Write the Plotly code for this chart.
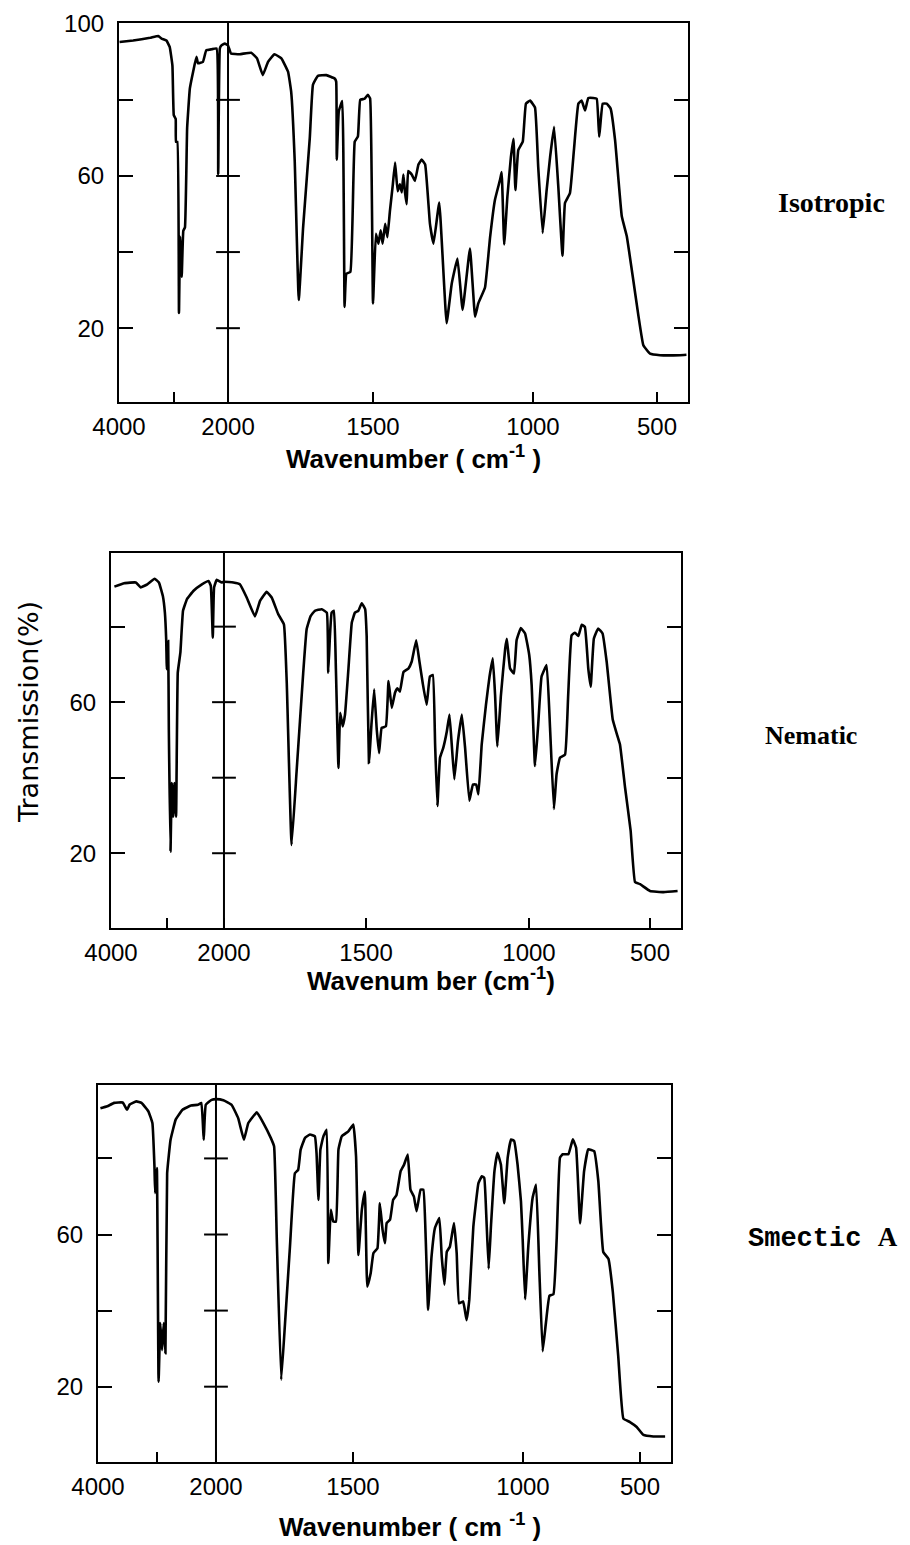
import numpy as np
import plotly.graph_objects as go

# ---------------- data (wavenumber in cm-1, transmission in %) ----------------
iso_wn = [3990, 3740, 3430, 3280, 3220, 3130, 3070, 3020, 2995, 2960, 2955, 2930, 2900, 2880, 2850,
          2820, 2790, 2750, 2700, 2640, 2580, 2550, 2460, 2400, 2300, 2210, 2180, 2150, 2120, 2060,
          2000, 1990, 1960, 1920, 1900, 1880, 1862, 1840, 1816, 1793, 1782, 1770, 1756, 1741, 1718,
          1707, 1690, 1661, 1632, 1627, 1625, 1618, 1606, 1598, 1592, 1578, 1563, 1552, 1544, 1529,
          1518, 1510, 1500, 1491, 1483, 1476, 1470, 1462, 1455, 1447, 1439, 1431, 1423, 1416, 1410,
          1405, 1400, 1395, 1390, 1379, 1369, 1358, 1348, 1337, 1322, 1311, 1293, 1270, 1254, 1236,
          1220, 1197, 1181, 1171, 1150, 1134, 1119, 1103, 1098, 1090, 1080, 1069, 1061, 1055, 1046,
          1032, 1022, 1009, 992, 979, 961, 945, 931, 915, 898, 881, 871, 851, 835, 817,
          804, 790, 777, 757, 743, 733, 719, 703, 687, 669, 642, 622, 598, 575, 555,
          528, 490, 426, 405]
iso_t = [95.2, 95.6, 96.3, 96.8, 96.1, 95.6, 93.9, 89.0, 76.0, 75.0, 69.0, 69.0, 24.0, 44.0, 33.5,
         45.6, 46.5, 72.6, 83.0, 87.4, 91.3, 89.6, 90.0, 93.0, 93.3, 93.5, 60.4, 93.5, 94.3, 94.8,
         94.3, 92.2, 92.0, 92.4, 90.9, 86.5, 90.0, 92.0, 90.9, 87.4, 82.0, 64.0, 27.4, 46.5, 70.0,
         84.0, 86.3, 86.5, 85.6, 84.8, 64.3, 77.0, 79.7, 25.6, 34.3, 34.8, 69.0, 70.4, 80.0, 80.3,
         81.3, 80.4, 26.5, 44.8, 42.2, 45.7, 42.2, 47.4, 43.9, 50.9, 57.0, 63.5, 56.0, 57.8, 55.7,
         60.4, 55.7, 52.6, 61.3, 60.4, 58.7, 63.0, 64.3, 63.0, 47.4, 42.2, 53.0, 21.3, 31.7, 38.3,
         24.8, 40.9, 23.0, 26.5, 30.7, 44.0, 53.7, 59.0, 61.0, 42.0, 54.6, 65.0, 69.8, 56.3, 66.8,
         69.0, 79.0, 79.8, 78.0, 62.4, 45.0, 56.3, 65.0, 72.9, 57.2, 39.0, 52.9, 55.5, 66.8, 79.0,
         79.8, 77.2, 80.5, 80.5, 80.3, 70.3, 79.0, 79.0, 77.7, 69.4, 49.4, 44.2, 33.7, 23.3, 15.5,
         13.3, 12.9, 12.9, 13.0]

nem_wn = [3940, 3766, 3561, 3474, 3357, 3228, 3152, 3082, 3046, 3023, 3011, 2988, 2976, 2947, 2924,
          2900, 2877, 2848, 2818, 2772, 2725, 2655, 2538, 2391, 2274, 2233, 2198, 2175, 2128, 2040,
          2000, 1967, 1944, 1920, 1891, 1873, 1850, 1832, 1809, 1789, 1779, 1762, 1744, 1721, 1709,
          1695, 1680, 1656, 1638, 1633, 1627, 1621, 1613, 1606, 1597, 1591, 1582, 1574, 1562, 1550,
          1539, 1527, 1515, 1503, 1498, 1491, 1483, 1475, 1467, 1460, 1452, 1439, 1431, 1421, 1411,
          1404, 1396, 1385, 1370, 1360, 1346, 1336, 1326, 1314, 1304, 1295, 1288, 1281, 1273, 1263,
          1252, 1244, 1237, 1229, 1218, 1206, 1196, 1183, 1172, 1162, 1155, 1145, 1132, 1121, 1111,
          1104, 1097, 1086, 1073, 1068, 1058, 1046, 1038, 1025, 1012, 999, 989, 975, 962, 948,
          927, 913, 897, 886, 872, 851, 838, 824, 810, 796, 782, 769, 755, 745, 732,
          714, 696, 679, 654, 638, 624, 603, 580, 562, 541, 500, 456, 411]
nem_t = [90.6, 91.5, 91.7, 90.4, 91.2, 92.7, 91.7, 88.1, 83.7, 76.6, 68.7, 76.2, 52.7, 20.4, 38.6,
         29.7, 38.6, 29.7, 67.8, 73.1, 84.2, 87.3, 89.5, 91.2, 92.1, 90.8, 77.1, 90.4, 92.4, 91.7,
         91.9, 91.7, 91.2, 87.7, 82.7, 86.8, 89.2, 87.7, 83.3, 80.6, 65.1, 22.2, 42.1, 67.8, 79.3,
         82.8, 84.2, 84.6, 83.7, 67.8, 77.5, 83.7, 84.2, 68.7, 42.6, 57.2, 53.6, 56.7, 68.7, 81.1,
         83.7, 84.2, 86.2, 84.6, 77.5, 43.9, 54.5, 63.4, 52.7, 46.5, 53.2, 53.6, 65.6, 58.5, 62.5,
         63.7, 62.8, 68.0, 68.9, 70.7, 76.4, 70.7, 65.0, 59.3, 66.8, 67.2, 48.8, 32.5, 45.3, 47.9,
         52.3, 56.7, 48.8, 39.6, 49.6, 56.7, 47.9, 33.9, 38.2, 38.2, 35.6, 48.8, 59.3, 66.8, 71.6,
         61.9, 48.3, 61.9, 74.2, 76.8, 68.9, 67.6, 76.4, 79.6, 78.2, 72.5, 64.6, 43.1, 54.0, 66.8,
         69.8, 53.2, 31.7, 40.9, 45.3, 46.1, 61.9, 77.7, 78.4, 77.5, 80.5, 79.9, 68.9, 64.1, 76.8,
         79.5, 78.2, 70.7, 55.4, 51.8, 48.8, 37.4, 26.0, 12.4, 11.8, 10.0, 9.7, 10.0]

sma_wn = [3959, 3843, 3727, 3582, 3507, 3466, 3350, 3263, 3147, 3078, 3043, 3031, 3002, 2973, 2944,
          2915, 2886, 2857, 2828, 2770, 2683, 2567, 2422, 2306, 2248, 2208, 2173, 2074, 2000, 1973,
          1943, 1919, 1898, 1882, 1851, 1827, 1800, 1788, 1778, 1762, 1748, 1730, 1712, 1700, 1691,
          1675, 1657, 1639, 1633, 1626, 1619, 1608, 1596, 1590, 1581, 1572, 1562, 1553, 1541, 1517,
          1499, 1491, 1484, 1474, 1465, 1458, 1448, 1440, 1428, 1421, 1413, 1406, 1401, 1391, 1382,
          1372, 1360, 1350, 1339, 1331, 1321, 1313, 1301, 1293, 1286, 1279, 1269, 1259, 1246, 1239,
          1231, 1224, 1215, 1203, 1195, 1188, 1176, 1166, 1158, 1146, 1131, 1121, 1114, 1108, 1101,
          1094, 1084, 1075, 1065, 1055, 1045, 1035, 1026, 1016, 1006, 1001, 991, 977, 959, 944,
          930, 916, 902, 887, 870, 856, 842, 830, 806, 787, 773, 756, 739, 721, 696,
          678, 657, 635, 616, 593, 571, 543, 514, 489, 457, 419]
sma_t = [93.2, 93.7, 94.6, 94.7, 92.8, 94.1, 95.0, 94.6, 92.4, 89.3, 77.9, 70.9, 77.5, 21.3, 36.7,
         29.6, 36.7, 28.8, 76.1, 84.9, 90.2, 92.8, 93.9, 94.1, 94.6, 84.9, 94.1, 95.4, 95.6, 95.3,
         94.1, 90.6, 84.9, 89.3, 92.1, 89.3, 85.4, 83.2, 58.6, 21.8, 36.7, 56.8, 76.1, 77.0, 82.3,
         85.4, 86.3, 85.8, 81.4, 69.1, 82.3, 85.8, 87.5, 52.5, 66.5, 63.4, 63.4, 82.3, 85.8, 87.1,
         88.9, 80.5, 54.6, 66.5, 71.3, 46.3, 49.8, 55.1, 56.4, 68.2, 61.2, 57.7, 63.0, 63.9, 69.1,
         70.4, 76.6, 78.3, 81.0, 71.8, 70.0, 66.1, 71.8, 71.8, 58.6, 40.2, 54.2, 61.7, 64.3, 54.2,
         46.8, 55.5, 56.8, 63.0, 55.1, 41.9, 42.4, 37.5, 42.8, 62.1, 73.5, 75.3, 74.9, 65.1, 51.0,
         62.5, 76.6, 81.5, 78.4, 68.2, 80.2, 85.0, 84.6, 78.4, 68.7, 58.9, 43.0, 57.2, 69.6, 73.1,
         50.1, 29.3, 36.8, 43.9, 44.3, 58.9, 80.2, 81.1, 81.1, 85.0, 82.8, 62.9, 76.6, 82.4, 81.9,
         74.0, 55.4, 53.6, 44.8, 28.0, 11.6, 10.7, 9.4, 7.3, 6.9, 6.9]

x_tick_wn = [4000, 2000, 1500, 1000, 500]
x_tick_text = ["4000", "2000", "1500", "1000", "500"]
x_minor_wn = [3000]
y_tick_vals = [20, 60, 100]
y_tick_text = ["20", "60", "100"]
y_minor_vals = [40, 80]
divider_ticks = [20, 40, 60, 80]
divider_wn = 2000

# ---------------- axis calibration (chart paper uses a split wavenumber scale) ----------------
KNOT_WN = [4000, 2000, 1500, 1000, 500, 400]
panels = [
    dict(name="Isotropic", wn=iso_wn, t=iso_t, knots=[0, 0.1916, 0.4464, 0.7276, 0.9455, 1.0],
         px=(119, 688), py=(23, 402), yr=(0.6, 100.2),
         title="Wavenumber ( cm<sup>-1</sup> )", title_xy=(413, 458), title_anchor="middle",
         label="Isotropic", label_xy=(831, 203), label_font=dict(family="Liberation Serif", size=28, weight="bold")),
    dict(name="Nematic", wn=nem_wn, t=nem_t, knots=[0, 0.1982, 0.4474, 0.7333, 0.9456, 1.0],
         px=(111, 681), py=(553, 928), yr=(0.2, 99.5),
         title="Wavenum ber (cm<sup>-1</sup>)", title_xy=(431, 980), title_anchor="middle",
         label="Nematic", label_xy=(811, 735), label_font=dict(family="Liberation Serif", size=26, weight="bold")),
    dict(name="Smectic A", wn=sma_wn, t=sma_t, knots=[0, 0.2059, 0.4450, 0.7417, 0.9459, 1.0],
         px=(98, 671), py=(1085, 1462), yr=(0.2, 99.3),
         title="Wavenumber ( cm <sup>-1</sup> )", title_xy=(410, 1544), title_anchor="bottom",
         label="Smectic <span style='font-family:Liberation Serif'>A</span>", label_xy=(823, 1238),
         label_font=dict(family="Liberation Mono", size=27, weight="bold")),
]

# page body adds an 8 px margin; layout positions below are measured on the final picture
OFF = 8
W, H = 902, 1537


def fx(px):
    return (px - OFF) / W


def fy(py):
    return 1 - (py - OFF) / H


def to_axis(wn, knots):
    return np.interp(-np.asarray(wn, dtype=float), -np.asarray(KNOT_WN, dtype=float), knots)


fig = go.Figure()
layout = dict(template="none", width=W, height=H,
              margin=dict(l=0, r=0, t=0, b=0, pad=0, autoexpand=False),
              paper_bgcolor="white", plot_bgcolor="white", showlegend=False)
annotations = []
tick_font = dict(family="Liberation Sans", size=24, color="black")

for i, p in enumerate(panels):
    k = i + 1
    xa = "x" if k == 1 else f"x{k}"
    ya = "y" if k == 1 else f"y{k}"
    xd = [fx(p["px"][0]), fx(p["px"][1])]
    yd = [fy(p["py"][1]), fy(p["py"][0])]

    # scale-change divider at 2000 cm-1, with its cross ticks
    xdiv = float(to_axis([divider_wn], p["knots"])[0])
    fig.add_trace(go.Scatter(x=[xdiv, xdiv], y=list(p["yr"]), mode="lines",
                             line=dict(color="black", width=2), xaxis=xa, yaxis=ya,
                             hoverinfo="skip", cliponaxis=False))
    fig.add_trace(go.Scatter(x=[xdiv] * len(divider_ticks), y=divider_ticks, mode="markers",
                             marker=dict(symbol="line-ew", size=17, color="black",
                                         line=dict(color="black", width=2)),
                             xaxis=xa, yaxis=ya, hoverinfo="skip"))

    fig.add_trace(go.Scatter(x=to_axis(p["wn"], p["knots"]), y=p["t"], mode="lines",
                             line=dict(color="black", width=2.6, shape="spline", smoothing=0.3),
                             xaxis=xa, yaxis=ya, name=p["name"], hoverinfo="skip"))

    layout["xaxis" if k == 1 else f"xaxis{k}"] = dict(
        domain=xd, range=[0, 1], anchor=ya, showgrid=False, zeroline=False, automargin=False,
        showline=True, linecolor="black", linewidth=2.2, mirror=True,
        ticks="inside", ticklen=10, tickwidth=2, tickcolor="black",
        tickmode="array", tickvals=list(to_axis(x_tick_wn, p["knots"])), ticktext=x_tick_text,
        minor=dict(tickmode="array", tickvals=list(to_axis(x_minor_wn, p["knots"])),
                   ticks="inside", ticklen=10, tickwidth=2, tickcolor="black", showgrid=False),
        tickfont=tick_font, ticklabelstandoff=2, fixedrange=True)
    layout["yaxis" if k == 1 else f"yaxis{k}"] = dict(
        domain=yd, range=list(p["yr"]), anchor=xa, showgrid=False, zeroline=False, automargin=False,
        showline=True, linecolor="black", linewidth=2.2, mirror="ticks",
        ticks="inside", ticklen=14, tickwidth=2, tickcolor="black",
        tickmode="array", tickvals=y_tick_vals, ticktext=y_tick_text,
        minor=dict(tickmode="array", tickvals=y_minor_vals,
                   ticks="inside", ticklen=14, tickwidth=2, tickcolor="black", showgrid=False),
        tickfont=tick_font, ticklabelstandoff=8, fixedrange=True)

    annotations.append(dict(text=p["title"], xref="paper", yref="paper",
                            x=fx(p["title_xy"][0]), y=fy(p["title_xy"][1]),
                            xanchor="center", yanchor=p["title_anchor"], showarrow=False,
                            font=dict(family="Liberation Sans", size=26, color="black", weight="bold")))
    lf = dict(p["label_font"])
    lf["color"] = "black"
    annotations.append(dict(text=p["label"], xref="paper", yref="paper",
                            x=fx(p["label_xy"][0]), y=fy(p["label_xy"][1]),
                            xanchor="center", yanchor="middle", showarrow=False, font=lf))

annotations.append(dict(text="Transmission(%)", xref="paper", yref="paper",
                        x=fx(28), y=fy(712), textangle=-90,
                        xanchor="center", yanchor="middle", showarrow=False,
                        font=dict(family="DejaVu Sans", size=27, color="black")))
layout["annotations"] = annotations
fig.update_layout(**layout)
fig.write_html("out.html")
